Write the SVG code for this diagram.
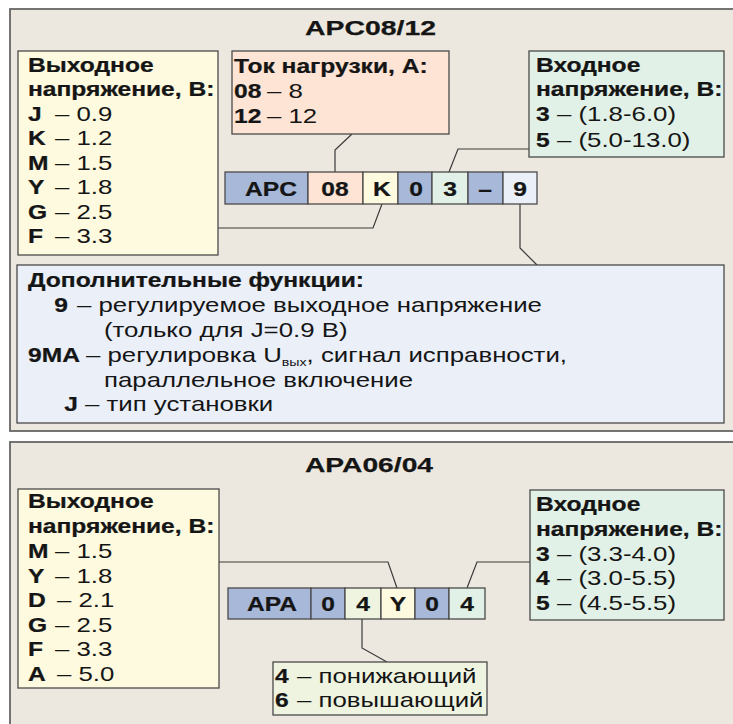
<svg xmlns="http://www.w3.org/2000/svg" width="733" height="724" viewBox="0 0 733 724">
<style>
text{font-family:"Liberation Sans",Arial,sans-serif;fill:#151515}
.b{font-weight:bold;font-size:20.5px;stroke:#151515;stroke-width:0.25}
.r{font-size:20px}
.c{text-anchor:middle}
.e{text-anchor:end}
.sub{font-size:11px}
.panel{fill:#ede8df;stroke:#666;stroke-width:1.8}
.bx{stroke:#4a4a4a;stroke-width:1.3}
.yl{fill:#fefadf}.pc{fill:#fde4d4}.gr{fill:#e2f1e7}.lb{fill:#eaeff8}.bl{fill:#a8b8d9}.lg{fill:#eff4e0}
.ln{fill:none;stroke:#3a3a3a;stroke-width:1.2}
</style>
<rect x="0" y="0" width="733" height="724" fill="#ffffff"/>
<rect class="panel" x="10" y="9" width="740" height="422"/>
<rect class="panel" x="10" y="442" width="740" height="300"/>

<g id="connectors">
<path class="ln" d="M352,134 L335,150 L335,172"/>
<path class="ln" d="M218,228 L373,228 L382,204"/>
<path class="ln" d="M529,149 L458,149 L449,172"/>
<path class="ln" d="M520,204 L520,248 L537,265"/>
<path class="ln" d="M219,562 L388,562 L397,588"/>
<path class="ln" d="M530,562 L477,562 L467,588"/>
<path class="ln" d="M362,619 L362,648 L387,662"/>
</g>

<g id="title-top"><text class="b" x="305" y="35" textLength="131" lengthAdjust="spacingAndGlyphs">APC08/12</text></g>

<g id="out-volt-top">
<rect class="bx yl" x="18" y="51" width="200" height="204"/>
<text class="b" x="28" y="72" transform="matrix(1.2 0 0 1 -5.6 0)">Выходное</text>
<text class="b" x="28" y="96.5" transform="matrix(1.2 0 0 1 -5.6 0)">напряжение, В:</text>
<text class="b" x="28" y="121" transform="matrix(1.2 0 0 1 -5.6 0)">J</text>
<text class="b" x="28" y="145.5" transform="matrix(1.2 0 0 1 -5.6 0)">K</text>
<text class="b" x="28" y="170" transform="matrix(1.2 0 0 1 -5.6 0)">M</text>
<text class="b" x="28" y="194.5" transform="matrix(1.2 0 0 1 -5.6 0)">Y</text>
<text class="b" x="28" y="219" transform="matrix(1.2 0 0 1 -5.6 0)">G</text>
<text class="b" x="28" y="243.5" transform="matrix(1.2 0 0 1 -5.6 0)">F</text>
<text class="r" x="55" y="121" transform="matrix(1.29 0 0 1 -15.95 0)">– 0.9</text>
<text class="r" x="55" y="145.5" transform="matrix(1.29 0 0 1 -15.95 0)">– 1.2</text>
<text class="r" x="55" y="170" transform="matrix(1.29 0 0 1 -15.95 0)">– 1.5</text>
<text class="r" x="55" y="194.5" transform="matrix(1.29 0 0 1 -15.95 0)">– 1.8</text>
<text class="r" x="55" y="219" transform="matrix(1.29 0 0 1 -15.95 0)">– 2.5</text>
<text class="r" x="55" y="243.5" transform="matrix(1.29 0 0 1 -15.95 0)">– 3.3</text>
</g>

<g id="load-current">
<rect class="bx pc" x="232" y="51" width="217" height="83"/>
<text class="b" x="234" y="73" transform="matrix(1.2 0 0 1 -46.8 0)">Ток нагрузки, А:</text>
<text class="b" x="234" y="98.5" transform="matrix(1.2 0 0 1 -46.8 0)">08</text>
<text class="b" x="234" y="123.5" transform="matrix(1.2 0 0 1 -46.8 0)">12</text>
<text class="r" x="267" y="98.5" transform="matrix(1.29 0 0 1 -77.43 0)">– 8</text>
<text class="r" x="267" y="123.5" transform="matrix(1.29 0 0 1 -77.43 0)">– 12</text>
</g>

<g id="in-volt-top">
<rect class="bx gr" x="529" y="51" width="195" height="106"/>
<text class="b" x="536" y="72" transform="matrix(1.2 0 0 1 -107.2 0)">Входное</text>
<text class="b" x="536" y="96.5" transform="matrix(1.2 0 0 1 -107.2 0)">напряжение, В:</text>
<text class="b" x="536" y="121.5" transform="matrix(1.2 0 0 1 -107.2 0)">3</text>
<text class="b" x="536" y="147" transform="matrix(1.2 0 0 1 -107.2 0)">5</text>
<text class="r" x="557" y="121.5" transform="matrix(1.29 0 0 1 -161.53 0)">– (1.8-6.0)</text>
<text class="r" x="557" y="147" transform="matrix(1.29 0 0 1 -161.53 0)">– (5.0-13.0)</text>
</g>

<g id="code-top">
<rect class="bx bl" x="225" y="172" width="83" height="32"/>
<rect class="bx pc" x="308" y="172" width="55" height="32"/>
<rect class="bx yl" x="363" y="172" width="35" height="32"/>
<rect class="bx bl" x="398" y="172" width="34" height="32"/>
<rect class="bx gr" x="432" y="172" width="36" height="32"/>
<rect class="bx bl" x="468" y="172" width="35" height="32"/>
<rect class="bx lb" x="503" y="172" width="34" height="32"/>
<text class="b c" x="271" y="196" transform="matrix(1.2 0 0 1 -54.2 0)">APC</text>
<text class="b c" x="335" y="196" transform="matrix(1.2 0 0 1 -67 0)">08</text>
<text class="b c" x="382" y="196" transform="matrix(1.2 0 0 1 -76.4 0)">K</text>
<text class="b c" x="416" y="196" transform="matrix(1.2 0 0 1 -83.2 0)">0</text>
<text class="b c" x="450" y="196" transform="matrix(1.2 0 0 1 -90 0)">3</text>
<text class="b c" x="485" y="196" transform="matrix(1.2 0 0 1 -97 0)">–</text>
<text class="b c" x="520" y="196" transform="matrix(1.2 0 0 1 -104 0)">9</text>
</g>

<g id="extra-functions">
<rect class="bx lb" x="17" y="265" width="707" height="158"/>
<text class="b" x="28" y="287" transform="matrix(1.2 0 0 1 -5.6 0)">Дополнительные функции:</text>
<text class="b e" x="68" y="312" transform="matrix(1.2 0 0 1 -13.6 0)">9</text>
<text class="r" x="77" y="312" transform="matrix(1.29 0 0 1 -22.33 0)">– регулируемое выходное напряжение</text>
<text class="r" x="104" y="337" transform="matrix(1.29 0 0 1 -30.16 0)">(только для J=0.9 В)</text>
<text class="b" x="28" y="362" transform="matrix(1.2 0 0 1 -5.6 0)">9MA</text>
<text class="r" x="86" y="362" transform="matrix(1.29 0 0 1 -24.94 0)">– регулировка U<tspan class="sub" dy="4">вых</tspan><tspan dy="-4">, сигнал исправности,</tspan></text>
<text class="r" x="104" y="387" transform="matrix(1.29 0 0 1 -30.16 0)">параллельное включение</text>
<text class="b e" x="78" y="411" transform="matrix(1.2 0 0 1 -15.6 0)">J</text>
<text class="r" x="85" y="411" transform="matrix(1.29 0 0 1 -24.65 0)">– тип установки</text>
</g>

<g id="title-bottom"><text class="b" x="305" y="472" textLength="128" lengthAdjust="spacingAndGlyphs">APA06/04</text></g>

<g id="out-volt-bottom">
<rect class="bx yl" x="18" y="489" width="201" height="199"/>
<text class="b" x="28" y="508.5" transform="matrix(1.2 0 0 1 -5.6 0)">Выходное</text>
<text class="b" x="28" y="533.5" transform="matrix(1.2 0 0 1 -5.6 0)">напряжение, В:</text>
<text class="b" x="28" y="558.5" transform="matrix(1.2 0 0 1 -5.6 0)">M</text>
<text class="b" x="28" y="583" transform="matrix(1.2 0 0 1 -5.6 0)">Y</text>
<text class="b" x="28" y="607.5" transform="matrix(1.2 0 0 1 -5.6 0)">D</text>
<text class="b" x="28" y="632" transform="matrix(1.2 0 0 1 -5.6 0)">G</text>
<text class="b" x="28" y="656.5" transform="matrix(1.2 0 0 1 -5.6 0)">F</text>
<text class="b" x="28" y="681" transform="matrix(1.2 0 0 1 -5.6 0)">A</text>
<text class="r" x="55" y="558.5" transform="matrix(1.29 0 0 1 -15.95 0)">– 1.5</text>
<text class="r" x="55" y="583" transform="matrix(1.29 0 0 1 -15.95 0)">– 1.8</text>
<text class="r" x="57" y="607.5" transform="matrix(1.29 0 0 1 -16.53 0)">– 2.1</text>
<text class="r" x="55" y="632" transform="matrix(1.29 0 0 1 -15.95 0)">– 2.5</text>
<text class="r" x="55" y="656.5" transform="matrix(1.29 0 0 1 -15.95 0)">– 3.3</text>
<text class="r" x="57" y="681" transform="matrix(1.29 0 0 1 -16.53 0)">– 5.0</text>
</g>

<g id="code-bottom">
<rect class="bx bl" x="228" y="588" width="83" height="31"/>
<rect class="bx bl" x="311" y="588" width="34" height="31"/>
<rect class="bx lg" x="345" y="588" width="36" height="31"/>
<rect class="bx yl" x="381" y="588" width="34" height="31"/>
<rect class="bx bl" x="415" y="588" width="34" height="31"/>
<rect class="bx gr" x="449" y="588" width="36" height="31"/>
<text class="b c" x="272" y="611" transform="matrix(1.2 0 0 1 -54.4 0)">APA</text>
<text class="b c" x="328" y="611" transform="matrix(1.2 0 0 1 -65.6 0)">0</text>
<text class="b c" x="363" y="611" transform="matrix(1.2 0 0 1 -72.6 0)">4</text>
<text class="b c" x="398" y="611" transform="matrix(1.2 0 0 1 -79.6 0)">Y</text>
<text class="b c" x="432" y="611" transform="matrix(1.2 0 0 1 -86.4 0)">0</text>
<text class="b c" x="467" y="611" transform="matrix(1.2 0 0 1 -93.4 0)">4</text>
</g>

<g id="in-volt-bottom">
<rect class="bx gr" x="530" y="490" width="194" height="130"/>
<text class="b" x="536" y="511.5" transform="matrix(1.2 0 0 1 -107.2 0)">Входное</text>
<text class="b" x="536" y="536" transform="matrix(1.2 0 0 1 -107.2 0)">напряжение, В:</text>
<text class="b" x="536" y="561" transform="matrix(1.2 0 0 1 -107.2 0)">3</text>
<text class="b" x="536" y="585.5" transform="matrix(1.2 0 0 1 -107.2 0)">4</text>
<text class="b" x="536" y="610" transform="matrix(1.2 0 0 1 -107.2 0)">5</text>
<text class="r" x="557" y="561" transform="matrix(1.29 0 0 1 -161.53 0)">– (3.3-4.0)</text>
<text class="r" x="557" y="585.5" transform="matrix(1.29 0 0 1 -161.53 0)">– (3.0-5.5)</text>
<text class="r" x="557" y="610" transform="matrix(1.29 0 0 1 -161.53 0)">– (4.5-5.5)</text>
</g>

<g id="type-box">
<rect class="bx lg" x="273" y="662" width="214" height="53"/>
<text class="b" x="275" y="683" transform="matrix(1.2 0 0 1 -55 0)">4</text>
<text class="b" x="275" y="707.5" transform="matrix(1.2 0 0 1 -55 0)">6</text>
<text class="r" x="297" y="683" transform="matrix(1.29 0 0 1 -86.13 0)">– понижающий</text>
<text class="r" x="297" y="707.5" transform="matrix(1.29 0 0 1 -86.13 0)">– повышающий</text>
</g>
</svg>
